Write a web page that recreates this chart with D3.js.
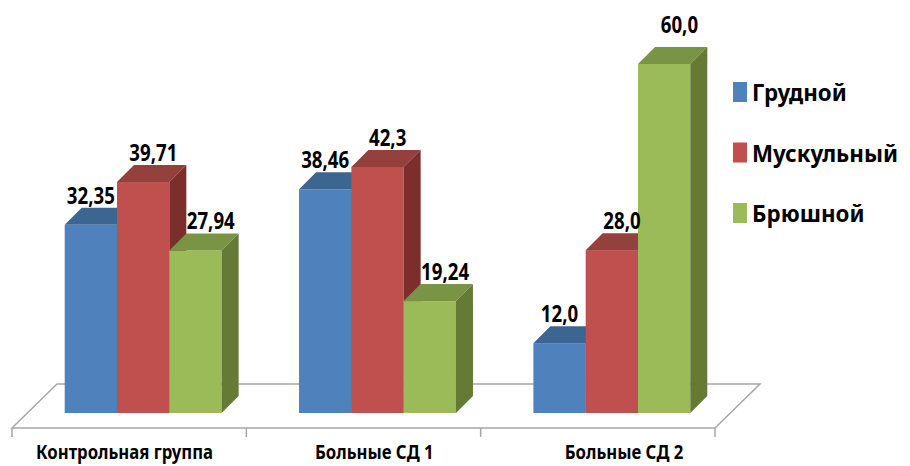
<!DOCTYPE html>
<html>
<head>
<meta charset="utf-8">
<script src="https://cdn.jsdelivr.net/npm/d3@7"></script>
<style>
  body { margin: 0; background: #fff; }
  svg { display: block; }
  text { font-family: "Noto Sans", "Open Sans", sans-serif; font-weight: bold; fill: #000; }
</style>
</head>
<body>
<svg id="chart" width="910" height="466"></svg>
<script>
// data
const categories = ["Контрольная группа", "Больные СД 1", "Больные СД 2"];
const series = ["Грудной", "Мускульный", "Брюшной"];
const chest = [32.35, 38.46, 12.0];
const muscle = [39.71, 42.3, 28.0];
const abdominal = [27.94, 19.24, 60.0];

const values = [chest, muscle, abdominal];
const colors = [
  { front: "#4F81BD", top: "#3D6591", side: "#36587F" },
  { front: "#C0504D", top: "#94403D", side: "#7B2E2C" },
  { front: "#9BBB59", top: "#7A9446", side: "#657A35" }
];

const svg = d3.select("#chart");

// floor geometry
const floorY = 428, floorDx = 45, floorDy = -44;
const barDx = 17, barDy = -17;
const shiftX = 14, shiftY = 15; // bars sit inside floor depth

const x0 = d3.scaleBand().domain(categories).range([12, 715]);
const x1 = d3.scaleBand().domain(series).range([0, x0.bandwidth()]).paddingOuter(0.74);
const y = d3.scaleLinear().domain([0, 60]).range([floorY - shiftY, 64]);

const fmt = v => (Number.isInteger(v) ? v.toFixed(1) : String(v)).replace(".", ",");

// squeeze text to a calibri-like width: ref node gets targetW, others same ratio
function condense(sel, refText, targetW) {
  let k = 0.85;
  sel.each(function () {
    if (this.textContent === refText) k = targetW / this.getComputedTextLength();
  });
  sel.each(function () {
    const w = this.getComputedTextLength();
    d3.select(this).attr("textLength", w * k).attr("lengthAdjust", "spacingAndGlyphs");
  });
}

// floor
const [fx0, fx1] = x0.range();
svg.append("path")
  .attr("d", `M${fx0},${floorY} L${fx0 + floorDx},${floorY + floorDy} L${fx1 + floorDx},${floorY + floorDy} L${fx1},${floorY} Z`)
  .attr("fill", "none")
  .attr("stroke", "#A6A6A6")
  .attr("stroke-width", 1.5);

// ticks under front edge
const tickXs = categories.map(c => x0(c)).concat([fx1]);
svg.selectAll(".tick")
  .data(tickXs)
  .enter()
  .append("line")
  .attr("x1", d => d).attr("x2", d => d)
  .attr("y1", floorY).attr("y2", floorY + 9)
  .attr("stroke", "#A6A6A6")
  .attr("stroke-width", 1.5);

// bars, left to right so each front covers the previous side
const bars = [];
categories.forEach((c, ci) => {
  series.forEach((s, si) => {
    bars.push({ cat: c, ser: s, si: si, v: values[si][ci] });
  });
});

const g = svg.selectAll(".bar")
  .data(bars)
  .enter()
  .append("g")
  .attr("class", "bar");

g.each(function (d) {
  const sel = d3.select(this);
  const x = x0(d.cat) + x1(d.ser) + shiftX;
  const w = x1.bandwidth();
  const yt = y(d.v), yb = y(0);
  const col = colors[d.si];
  sel.append("rect")
    .attr("x", x).attr("y", yt)
    .attr("width", w).attr("height", yb - yt)
    .attr("fill", col.front);
  sel.append("path")
    .attr("d", `M${x},${yt} L${x + barDx},${yt + barDy} L${x + w + barDx},${yt + barDy} L${x + w},${yt} Z`)
    .attr("fill", col.top);
  sel.append("path")
    .attr("d", `M${x + w},${yt} L${x + w + barDx},${yt + barDy} L${x + w + barDx},${yb + barDy} L${x + w},${yb} Z`)
    .attr("fill", col.side);
});

// value labels
const labelShift = [0, 0.6, 0.9];
const vals = svg.selectAll(".val")
  .data(bars)
  .enter()
  .append("text")
  .attr("class", "val")
  .attr("x", d => x0(d.cat) + x1(d.ser) + shiftX + x1.bandwidth() / 2 + barDx * labelShift[d.si])
  .attr("y", d => y(d.v) + barDy - (d.v === d3.max(abdominal) ? 14 : 4))
  .attr("text-anchor", "middle")
  .attr("font-size", 23)
  .text(d => fmt(d.v));
condense(vals, "32,35", 48);

// category labels
const cats = svg.selectAll(".cat")
  .data(categories)
  .enter()
  .append("text")
  .attr("class", "cat")
  .attr("x", (d, i) => x0(d) + x0.bandwidth() / 2 + shiftX * (i - 0.3) * 1.1)
  .attr("y", 459)
  .attr("text-anchor", "middle")
  .attr("font-size", 20)
  .text(d => d);
condense(cats, "Контрольная группа", 177);

// legend
const legend = svg.selectAll(".leg")
  .data(series)
  .enter()
  .append("g")
  .attr("class", "leg")
  .attr("transform", (d, i) => `translate(733,${82 + i * 60.5})`);

legend.append("rect")
  .attr("width", 14).attr("height", 20)
  .attr("fill", (d, i) => colors[i].front);

const legText = legend.append("text")
  .attr("x", 19).attr("y", 19)
  .attr("font-size", 23)
  .text(d => d);
condense(legText, "Мускульный", 146);
</script>
</body>
</html>
